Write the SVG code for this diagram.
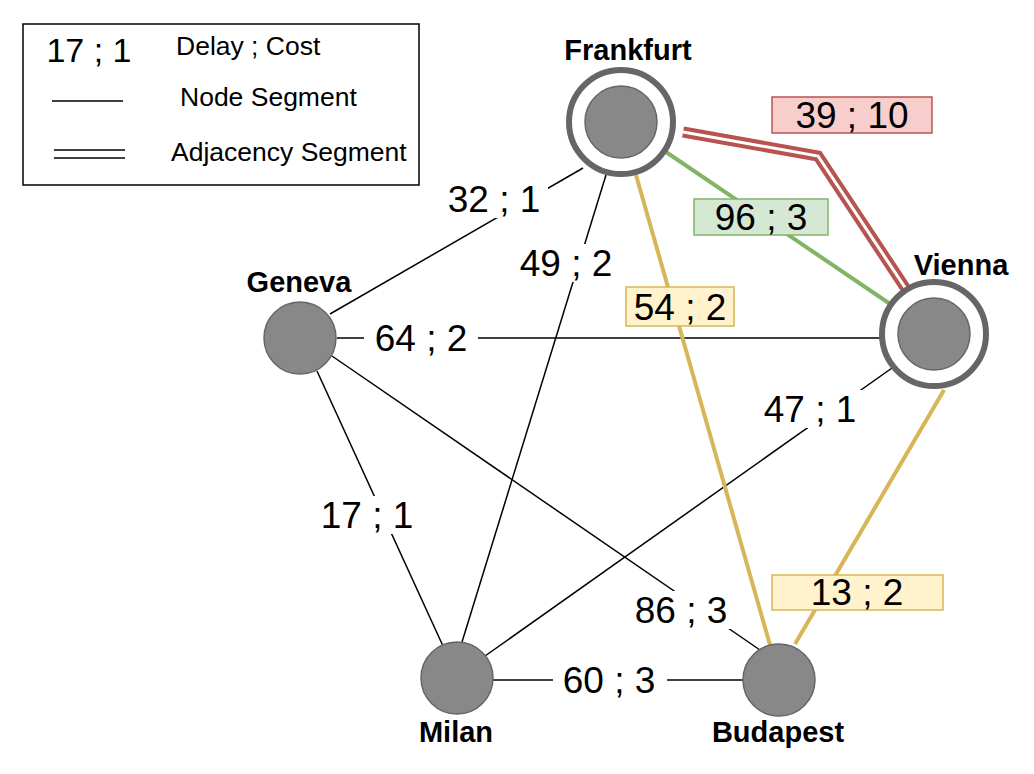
<svg xmlns="http://www.w3.org/2000/svg" width="1034" height="774" viewBox="0 0 1034 774">
<style>
.n{fill:#888;stroke:#666;stroke-width:1.5}
.ring{fill:#fff;stroke:#666;stroke-width:6}
.t{font-family:"Liberation Sans",Arial,sans-serif;font-size:37px;text-anchor:middle;dominant-baseline:central;fill:#000}
.nm{font-family:"Liberation Sans",Arial,sans-serif;font-size:29px;font-weight:bold;text-anchor:middle;fill:#000}
.lg{font-family:"Liberation Sans",Arial,sans-serif;font-size:26.5px;fill:#000}
.k{stroke:#000;stroke-width:1.5;fill:none}
.y{stroke:#d6b656;stroke-width:4;fill:none}
.g{stroke:#82b366;stroke-width:4;fill:none}
.bg{fill:#fff}
</style>
<rect width="1034" height="774" fill="#fff"/>
<g id="legend">
<rect x="23" y="24" width="396" height="161" fill="#fff" stroke="#000" stroke-width="1.5"/>
<text class="t" x="89" y="50" style="font-size:34px">17 ; 1</text>
<text class="lg" x="176" y="55">Delay ; Cost</text>
<line x1="52" y1="101" x2="123" y2="101" stroke="#000" stroke-width="1.5"/>
<text class="lg" x="180" y="106">Node Segment</text>
<line x1="54" y1="150" x2="125" y2="150" stroke="#000" stroke-width="1.5"/>
<line x1="54" y1="158" x2="125" y2="158" stroke="#000" stroke-width="1.5"/>
<text class="lg" x="171" y="161">Adjacency Segment</text>
</g>
<g id="connectors">
<line class="k" x1="330" y1="314" x2="583" y2="168"/>
<line class="k" x1="606" y1="175" x2="462" y2="642"/>
<line class="k" x1="337" y1="338" x2="888" y2="338"/>
<line class="k" x1="892" y1="368" x2="485" y2="656"/>
<line class="k" x1="317" y1="371" x2="443" y2="646"/>
<line class="k" x1="332" y1="356" x2="760" y2="650"/>
<line class="k" x1="493" y1="680" x2="743" y2="680"/>
<line class="y" x1="636" y1="175" x2="770" y2="645"/>
<line class="y" x1="944" y1="390" x2="795" y2="644"/>
<line class="g" x1="666" y1="152" x2="899" y2="310"/>
<path d="M683,132 L818,156 L908,292" fill="none" stroke="#b85450" stroke-width="11"/>
<path d="M683,132 L818,156 L908,292" fill="none" stroke="#fff" stroke-width="3"/>
<rect class="bg" x="440" y="180" width="108" height="38"/>
<text class="t" x="494" y="199">32 ; 1</text>
<rect class="bg" x="512" y="244" width="108" height="38"/>
<text class="t" x="566" y="263">49 ; 2</text>
<rect class="bg" x="364" y="319" width="114" height="38"/>
<text class="t" x="421" y="338">64 ; 2</text>
<rect class="bg" x="756" y="390" width="108" height="38"/>
<text class="t" x="810" y="409">47 ; 1</text>
<rect class="bg" x="314" y="496" width="108" height="38"/>
<text class="t" x="367" y="515">17 ; 1</text>
<rect class="bg" x="627" y="591" width="108" height="38"/>
<text class="t" x="681" y="610">86 ; 3</text>
<rect class="bg" x="553" y="661" width="114" height="38"/>
<text class="t" x="609" y="680">60 ; 3</text>
<rect x="626" y="287" width="108" height="39" fill="#fff2cc" stroke="#d6b656" stroke-width="1.5"/>
<text class="t" x="680" y="307">54 ; 2</text>
<rect x="694" y="199" width="134" height="36" fill="#d5e8d4" stroke="#82b366" stroke-width="1.5"/>
<text class="t" x="761" y="217">96 ; 3</text>
<rect x="772" y="575" width="171" height="35" fill="#fff2cc" stroke="#d6b656" stroke-width="1.5"/>
<text class="t" x="857" y="592">13 ; 2</text>
<rect x="772" y="97" width="160" height="36" fill="#f8cecc" stroke="#b85450" stroke-width="1.5"/>
<text class="t" x="852" y="115">39 ; 10</text>
</g>
<g id="frankfurt">
<circle class="ring" cx="621" cy="122" r="52"/>
<circle class="n" cx="621" cy="122" r="36"/>
<text class="nm" x="628" y="60">Frankfurt</text>
</g>
<g id="vienna">
<circle class="ring" cx="934" cy="334" r="52"/>
<circle class="n" cx="934" cy="334" r="36"/>
<text class="nm" x="961" y="275">Vienna</text>
</g>
<g id="geneva">
<circle class="n" cx="300" cy="338" r="36"/>
<text class="nm" x="299" y="292">Geneva</text>
</g>
<g id="milan">
<circle class="n" cx="457" cy="678" r="36"/>
<text class="nm" x="456" y="742">Milan</text>
</g>
<g id="budapest">
<circle class="n" cx="779" cy="680" r="36"/>
<text class="nm" x="778" y="742">Budapest</text>
</g>
</svg>
